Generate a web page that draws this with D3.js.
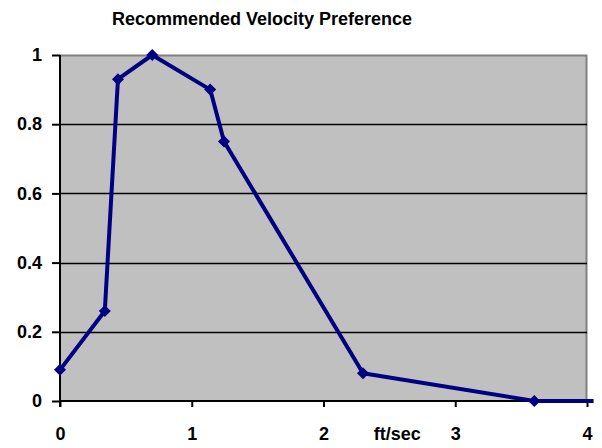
<!DOCTYPE html>
<html>
<head>
<meta charset="utf-8">
<script src="https://cdn.jsdelivr.net/npm/d3@7"></script>
<style>
  html, body { margin: 0; padding: 0; background: #fff; }
  svg { display: block; font-family: "Liberation Sans", Arial, sans-serif; }
</style>
</head>
<body>
<svg id="chart" width="602" height="448"></svg>
<script>
// Velocity (ft/sec) and preference values
const velocity = [0, 0.34, 0.44, 0.70, 1.14, 1.245, 2.30, 3.60, 4.05];
const preference = [0.09, 0.26, 0.93, 1.0, 0.90, 0.75, 0.08, 0, 0];
const xTicks = [0, 1, 2, 3, 4];
const yTicks = [0, 0.2, 0.4, 0.6, 0.8, 1];
const yTickLabels = ["0", "0.2", "0.4", "0.6", "0.8", "1"];
const chartTitle = "Recommended Velocity Preference";
const xUnit = "ft/sec";

const svg = d3.select("#chart");
const plotL = 60, plotR = 587, plotT = 55, plotB = 401;
const FONT = "Liberation Sans, Arial, sans-serif";

const x = d3.scaleLinear().domain([0, 4]).range([plotL, plotR]);
const y = d3.scaleLinear().domain([0, 1]).range([plotB, plotT]);

// Plot area background
svg.append("rect")
  .attr("x", plotL).attr("y", plotT)
  .attr("width", plotR - plotL).attr("height", plotB - plotT)
  .attr("fill", "#c0c0c0");

// Gray border on top and right
svg.append("path")
  .attr("d", `M${plotL},${plotT + 0.5}H${plotR - 0.5}V${plotB}`)
  .attr("fill", "none").attr("stroke", "#808080").attr("stroke-width", 2);

// Horizontal gridlines
svg.append("g").selectAll("line")
  .data(yTicks.filter(d => d > 0 && d < 1))
  .join("line")
  .attr("x1", plotL).attr("x2", plotR)
  .attr("y1", d => Math.round(y(d)) + 0.5).attr("y2", d => Math.round(y(d)) + 0.5)
  .attr("stroke", "#000").attr("stroke-width", 1.5);

// Y axis
const yAxis = d3.axisLeft(y).tickValues(yTicks)
  .tickFormat((d, i) => yTickLabels[i]).tickSize(8).tickPadding(10);
const gy = svg.append("g").attr("transform", `translate(${plotL},0)`).call(yAxis);
gy.attr("font-size", 18).attr("font-family", FONT);
gy.select(".domain").attr("stroke", "#000").attr("stroke-width", 2)
  .attr("d", `M0,${plotT}V${plotB + 6}`);
gy.selectAll(".tick line").attr("stroke", "#000").attr("stroke-width", 2);
gy.selectAll(".tick text").attr("font-weight", "bold").attr("fill", "#000");

// X axis
const xAxis = d3.axisBottom(x).tickValues(xTicks).tickFormat(d3.format("d"))
  .tickSize(6).tickPadding(20);
const gx = svg.append("g").attr("transform", `translate(0,${plotB})`).call(xAxis);
gx.attr("font-size", 18).attr("font-family", FONT);
gx.select(".domain").attr("stroke", "#000").attr("stroke-width", 2)
  .attr("d", `M${plotL},0H${plotR}`);
gx.selectAll(".tick line").attr("stroke", "#000").attr("stroke-width", 2);
gx.selectAll(".tick text").attr("font-weight", "bold").attr("fill", "#000");

// Unit label between ticks 2 and 3
svg.append("text")
  .attr("x", x(2.56)).attr("y", 440)
  .attr("text-anchor", "middle").attr("font-size", 18).attr("font-weight", "bold")
  .attr("font-family", FONT)
  .text(xUnit);

// Title
svg.append("text")
  .attr("x", 262).attr("y", 25)
  .attr("text-anchor", "middle").attr("font-size", 18).attr("font-weight", "bold")
  .attr("font-family", FONT)
  .text(chartTitle);

// Data line
const pts = velocity.map((v, i) => [v, preference[i]]);
svg.append("path")
  .datum(pts)
  .attr("d", d3.line().x(d => x(d[0])).y(d => y(d[1])))
  .attr("fill", "none").attr("stroke", "#000080")
  .attr("stroke-width", 4).attr("stroke-linejoin", "round");

// Diamond markers
svg.append("g").selectAll("path")
  .data(pts.filter(d => d[0] <= 4))
  .join("path")
  .attr("transform", d => `translate(${x(d[0])},${y(d[1])})`)
  .attr("d", "M0,-6L6,0L0,6L-6,0Z")
  .attr("fill", "#000080");
</script>
</body>
</html>
